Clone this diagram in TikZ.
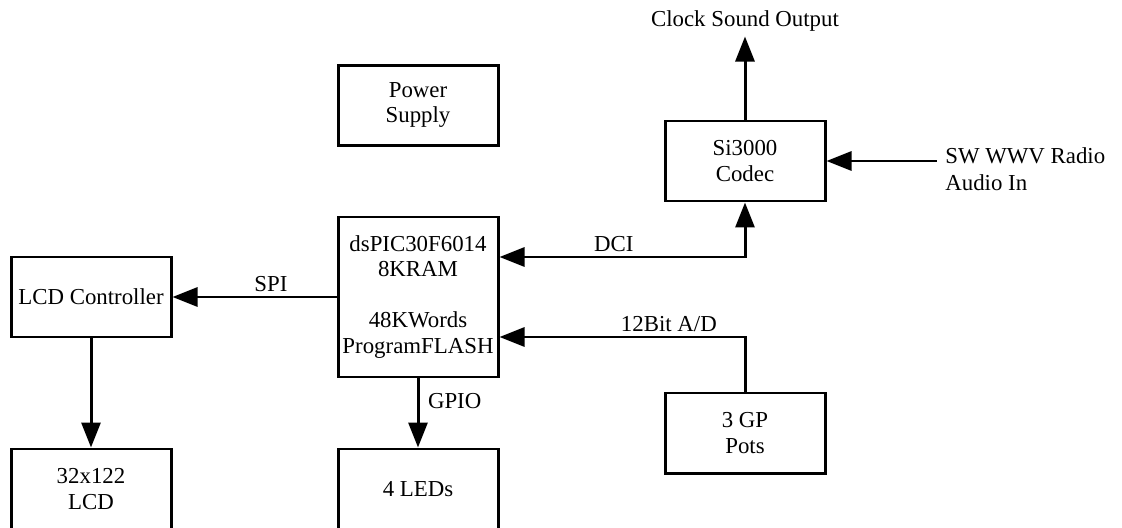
\documentclass[tikz,border=0pt]{standalone}
\usepackage{fontspec}
\setmainfont{Liberation Serif}
\usetikzlibrary{arrows.meta, positioning, calc}

\begin{document}
\begin{tikzpicture}[
    % --- node styles ---
    block/.style={rectangle, draw=black, line width=1.7pt, fill=white,
        minimum width=3.2cm, minimum height=1.6cm, align=center,
        inner xsep=1pt, font=\fontsize{13}{14.5}\selectfont},
    % --- arrow / label styles ---
    arr/.style={-{Triangle[length=0.5cm, width=0.38cm]}, line width=1.7pt},
    arrboth/.style={{Triangle[length=0.5cm, width=0.38cm]}-{Triangle[length=0.5cm, width=0.38cm]}, line width=1.7pt},
    lbl/.style={font=\fontsize{13}{15.3}\selectfont, inner sep=2pt}
]
\useasboundingbox (0,0) rectangle (22.44,-10.54);

%%% ================= MCU + NEIGHBOURS =================
\node (mcu) [block, minimum height=3.2cm] at (8.36,-5.94)
    {dsPIC30F6014\\8KRAM\\[14.5pt]48KWords\\ProgramFLASH};
\node (power) [block, above=1.38cm of mcu] {Power\\Supply};
\node (lcdctl) [block, left=3.28cm of mcu] {LCD Controller};
\node (lcd) [block, below=2.18cm of lcdctl] {32x122\\LCD};
\node (leds) [block, below=1.38cm of mcu] {4 LEDs};

%%% ================= AUDIO SIDE =================
\node (codec) [block] at (14.9,-3.22) {Si3000\\Codec};
\node (pots) [block] at (14.9,-8.66) {3 GP\\Pots};

\coordinate (sndout) at ([yshift=1.66cm]codec.north);
\coordinate (radioin) at ([xshift=2.2cm]codec.east);
\node (radio) [lbl, align=left, anchor=west, yshift=-0.16cm]
    at ([xshift=0.1cm]radioin) {SW WWV Radio\\Audio In};

%%% ================= ARROWS =================
\draw [arr] (mcu) -- node[lbl, above, pos=0.4] {SPI} (lcdctl);
\draw [arr] (lcdctl) -- (lcd);
\draw [arr] (mcu) -- node[lbl, right, pos=0.33, xshift=0.1cm] {GPIO} (leds);

\draw [arrboth] ([yshift=0.8cm]mcu.east) -| node[lbl, above, pos=0.233] {DCI} (codec.south);
\draw [arr] (pots.north) |- node[lbl, above, pos=0.655] {12Bit A/D} ([yshift=-0.8cm]mcu.east);

\draw [arr] (codec.north) -- (sndout) node[lbl, above] {Clock Sound Output};
\draw [arr] (radioin) -- (codec.east);

\end{tikzpicture}
\end{document}
